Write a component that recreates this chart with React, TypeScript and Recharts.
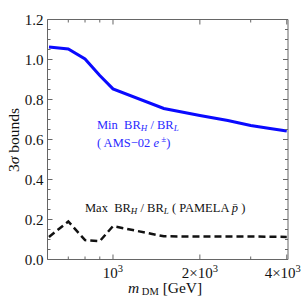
import React from 'react'
import { LineChart, Line, XAxis, YAxis } from 'recharts'

const M_DM = [600, 700, 800, 900, 1000, 1500, 2000, 2500, 3000, 3500, 4000]
const MIN_AMS = [1.063, 1.053, 1.003, 0.92, 0.853, 0.755, 0.72, 0.695, 0.67, 0.655, 0.642]
const MAX_PAMELA = [0.113, 0.19, 0.097, 0.092, 0.167, 0.116, 0.115, 0.115, 0.115, 0.114, 0.113]

const X_MAJOR = [1000, 2000, 4000]
const X_MINOR = [700, 800, 900, 3000]
const X_LABELS = ['10', '2\u00d710', '4\u00d710']
const Y_MAJOR = [0, 0.2, 0.4, 0.6, 0.8, 1.0, 1.2]
const Y_MINOR = [0.05, 0.1, 0.15, 0.25, 0.3, 0.35, 0.45, 0.5, 0.55, 0.65, 0.7, 0.75, 0.85, 0.9, 0.95, 1.05, 1.1, 1.15]

const data = M_DM.map((m, i) => ({ m, min: MIN_AMS[i], max: MAX_PAMELA[i] }))

const FRAME = '#666'
const SERIF = "'Liberation Serif', 'DejaVu Serif', serif"
const X_ALL = [...X_MINOR, ...X_MAJOR].sort((a, b) => a - b)
const Y_ALL = [...Y_MINOR, ...Y_MAJOR].sort((a, b) => a - b)

const isMajorX = (v: number) => X_MAJOR.includes(v)
const isMajorY = (v: number) => Y_MAJOR.some(t => Math.abs(t - v) < 1e-6)

const tickText: React.CSSProperties = { fontFamily: SERIF, fontSize: 15, fill: '#111' }

// tick props arrive at the axis line itself because tickSize and tickMargin are 0
function BottomTick({ x, y, payload }: any) {
  const major = isMajorX(payload.value)
  const idx = X_MAJOR.indexOf(payload.value)
  // last label is nudged left so it stays inside the picture
  const shift = idx === X_MAJOR.length - 1 ? -4 : 0
  return (
    <g>
      <line x1={x} x2={x} y1={y} y2={y - (major ? 5 : 3)} stroke={FRAME} />
      {major && (
        <text x={x + shift} y={y + 18} textAnchor="middle" fontFamily={SERIF} style={tickText}>
          {X_LABELS[idx]}
          <tspan dy={-6} style={{ fontSize: 10.5 }}>3</tspan>
        </text>
      )}
    </g>
  )
}

function TopTick({ x, y, payload }: any) {
  const major = isMajorX(payload.value)
  return <line x1={x} x2={x} y1={y} y2={y + (major ? 5 : 3)} stroke={FRAME} />
}

function LeftTick({ x, y, payload }: any) {
  const major = isMajorY(payload.value)
  return (
    <g>
      <line x1={x} x2={x + (major ? 5 : 3)} y1={y} y2={y} stroke={FRAME} />
      {major && (
        <text x={x - 4} y={y + 5} textAnchor="end" fontFamily={SERIF} style={tickText}>
          {payload.value.toFixed(1)}
        </text>
      )}
    </g>
  )
}

function RightTick({ x, y, payload }: any) {
  const major = isMajorY(payload.value)
  return <line x1={x} x2={x - (major ? 5 : 3)} y1={y} y2={y} stroke={FRAME} />
}

const subStyle: React.CSSProperties = { fontSize: 9, fontStyle: 'italic', lineHeight: 0, verticalAlign: '-2px' }

export default function App() {
  return (
    <div style={{ position: 'absolute', left: 0, top: 0, width: 306, height: 304, background: '#fff', fontFamily: SERIF }}>
      <LineChart width={306} height={304} data={data} margin={{ top: 18.5, right: 17, bottom: 43.5, left: 46.5 }}>
        <XAxis xAxisId="b" dataKey="m" type="number" scale="log" domain={[593, 4040]} allowDataOverflow
          ticks={X_ALL} interval={0} height={1} tickSize={0} tickMargin={0} tickLine={false}
          axisLine={{ stroke: FRAME }} tick={BottomTick} />
        <XAxis xAxisId="t" orientation="top" dataKey="m" type="number" scale="log" domain={[593, 4040]} allowDataOverflow
          ticks={X_ALL} interval={0} height={1} tickSize={0} tickMargin={0} tickLine={false}
          axisLine={{ stroke: FRAME }} tick={TopTick} />
        <YAxis yAxisId="l" type="number" domain={[0, 1.2]} allowDataOverflow ticks={Y_ALL} interval={0}
          width={1} tickSize={0} tickMargin={0} tickLine={false} axisLine={{ stroke: FRAME }} tick={LeftTick} />
        <YAxis yAxisId="r" orientation="right" type="number" domain={[0, 1.2]} allowDataOverflow ticks={Y_ALL} interval={0}
          width={1} tickSize={0} tickMargin={0} tickLine={false} axisLine={{ stroke: FRAME }} tick={RightTick} />
        <Line xAxisId="t" yAxisId="r" dataKey="max" stroke="none" dot={false} isAnimationActive={false} />
        <Line xAxisId="b" yAxisId="l" type="linear" dataKey="min" stroke="#0a0aff" strokeWidth={3} dot={false} isAnimationActive={false} />
        <Line xAxisId="b" yAxisId="l" type="linear" dataKey="max" stroke="#111" strokeWidth={2.5} strokeDasharray="7 4" dot={false} isAnimationActive={false} />
      </LineChart>

      {/* annotations */}
      <div style={{ position: 'absolute', left: 97, top: 118, fontSize: 12.5, color: '#2a2aff', whiteSpace: 'pre', lineHeight: '14px' }}>
        Min  BR<sub style={subStyle}>H</sub> / BR<sub style={subStyle}>L</sub>
      </div>
      <div style={{ position: 'absolute', left: 97, top: 136, fontSize: 12.5, color: '#2a2aff', whiteSpace: 'pre', lineHeight: '14px' }}>
        ( AMS−02 <i>e</i><sup style={{ fontSize: 9, lineHeight: 0, verticalAlign: '5px' }}> ±</sup>)
      </div>
      <div style={{ position: 'absolute', left: 85, top: 201, fontSize: 12.5, color: '#111', whiteSpace: 'pre', lineHeight: '14px' }}>
        Max  BR<sub style={subStyle}>H</sub> / BR<sub style={subStyle}>L</sub> ( PAMELA <i>p̄</i> )
      </div>
      <div style={{ position: 'absolute', left: 128, top: 279, fontSize: 15.5, color: '#111', whiteSpace: 'pre', lineHeight: '17px' }}>
        <i>m</i><sub style={{ fontSize: 10.5, lineHeight: 0, verticalAlign: '-2px' }}> DM</sub> [GeV]
      </div>
      <div style={{ position: 'absolute', left: 13, top: 140, fontSize: 15.5, color: '#111', whiteSpace: 'pre', lineHeight: '17px',
        transform: 'translate(-50%, -50%) rotate(-90deg)' }}>
        3<i>σ</i> bounds
      </div>
    </div>
  )
}
